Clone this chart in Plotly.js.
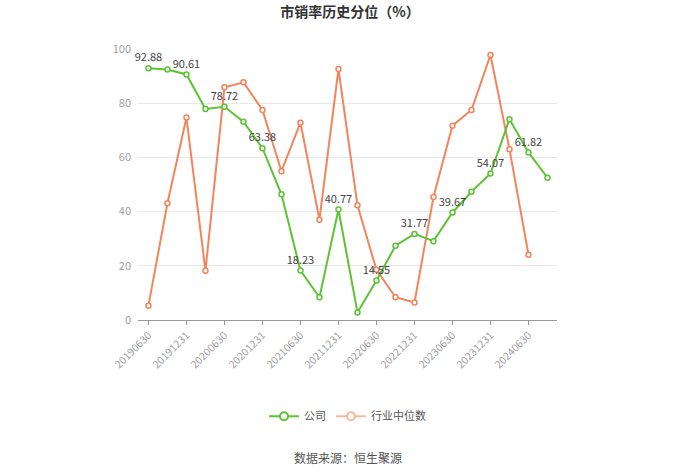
<!DOCTYPE html>
<html>
<head>
<meta charset="utf-8">
<script src="https://cdn.plot.ly/plotly-3.0.1.min.js"></script>
<style>html,body{margin:0;padding:0;background:#fff;}#chart{width:700px;height:474px;}</style>
</head>
<body>
<div id="chart"></div>
<script>
const dates = ["20190630","20190930","20191231","20200331","20200630","20200930","20201231","20210331","20210630","20210930","20211231","20220331","20220630","20220930","20221231","20230331","20230630","20230930","20231231","20240331","20240630","20240930"];
const tickLabels = ["20190630","20191231","20200630","20201231","20210630","20211231","20220630","20221231","20230630","20231231","20240630"];
const company = [92.88,92.4,90.61,77.9,78.72,73.2,63.38,46.4,18.23,8.4,40.77,2.8,14.55,27.4,31.77,29.1,39.67,47.3,54.07,74.1,61.82,52.5];
const industry = [5.3,43.1,74.7,18.2,85.9,87.7,77.5,54.9,72.8,37.0,92.6,42.3,18.5,8.4,6.5,45.4,71.7,77.5,97.8,63.0,24.1,null];
const companyName = "公司";
const industryName = "行业中位数";

const green = "#5cc334";
const orange = "#f4845c";
const labelText = company.map((v,i)=> i%2===0 ? v.toFixed(2) : "");
const font = "Noto Sans CJK SC, Noto Sans, sans-serif";

const traces = [
  {x: dates, y: industry, type: "scatter", mode: "lines+markers", name: industryName, showlegend: false, cliponaxis: false,
   line: {color: orange, width: 2}, marker: {symbol: "circle", size: 5, color: "#fff", line: {color: orange, width: 1.5}}},
  {x: dates, y: company, type: "scatter", mode: "lines+markers+text", name: companyName, showlegend: false, cliponaxis: false,
   text: labelText, textposition: "top center", textfont: {family: font, size: 11, color: "#444"},
   line: {color: green, width: 2}, marker: {symbol: "circle", size: 5, color: "#fff", line: {color: green, width: 1.5}}},
  {x: [null], y: [null], type: "scatter", mode: "lines+markers", name: companyName,
   line: {color: green, width: 2}, marker: {size: 8, color: "#fff", line: {color: green, width: 2}}},
  {x: [null], y: [null], type: "scatter", mode: "lines+markers", name: industryName,
   line: {color: "#f7b89d", width: 2}, marker: {size: 8, color: "#fff", line: {color: "#f7b89d", width: 2}}}
];

const layout = {
  width: 700, height: 474,
  margin: {l: 138, r: 143, t: 49, b: 154},
  paper_bgcolor: "#fff", plot_bgcolor: "#fff",
  font: {family: font, color: "#999", size: 11},
  title: {text: "<b>市销率历史分位（%）</b>", x: 0.5, xanchor: "center", y: 0.975, yanchor: "middle",
          font: {family: font, size: 14, color: "#333"}},
  xaxis: {type: "category", range: [-0.55, 21.5], tickvals: tickLabels, ticktext: tickLabels, automargin: false,
          tickangle: -45, ticks: "outside", ticklen: 4, tickcolor: "#999", showline: true, linecolor: "#999",
          linewidth: 1, showgrid: false, zeroline: false, tickfont: {family: font, size: 10.5, color: "#a0a0a0"}},
  yaxis: {range: [0, 100], tickvals: [0,20,40,60,80,100], showgrid: true, gridcolor: "#e8e8e8", automargin: false,
          zeroline: false, showline: false, ticks: "", ticklabelstandoff: 6,
          tickfont: {family: font, size: 11, color: "#a0a0a0"}},
  showlegend: true,
  legend: {orientation: "h", x: 0.5, xanchor: "center", yref: "container", y: 0.122, yanchor: "middle",
           font: {family: font, size: 11, color: "#555"}},
  annotations: [
    {text: "数据来源：恒生聚源", xref: "paper", yref: "paper", x: 0.5, y: -0.509, xanchor: "center", yanchor: "middle",
     showarrow: false, font: {family: font, size: 12, color: "#555"}}
  ]
};

Plotly.newPlot("chart", traces, layout, {displayModeBar: false, staticPlot: true});
</script>
</body>
</html>
